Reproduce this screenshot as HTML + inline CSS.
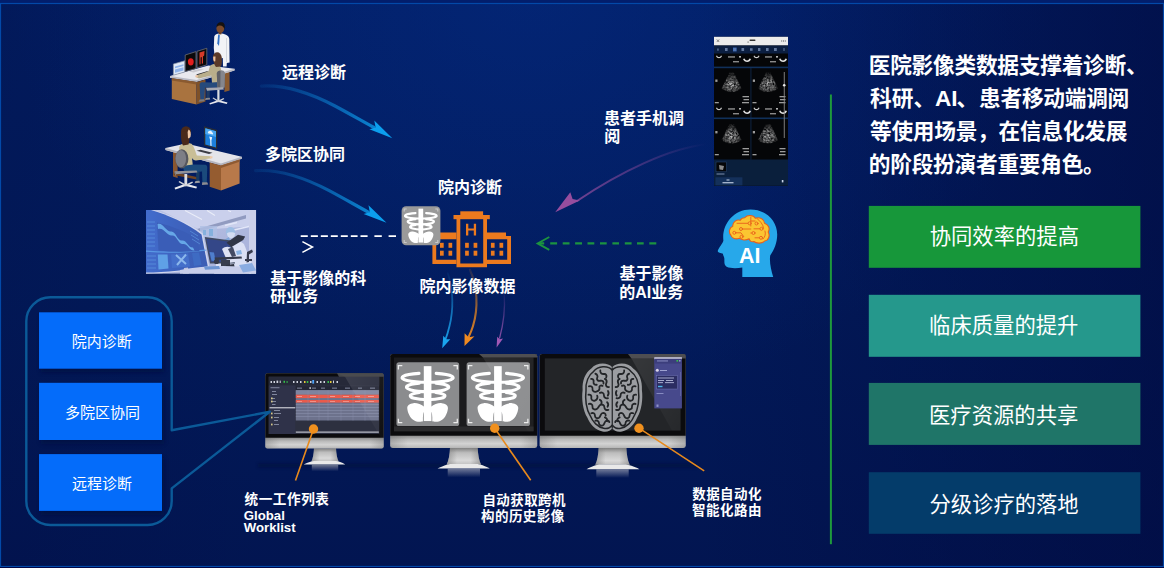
<!DOCTYPE html>
<html lang="zh"><head><meta charset="utf-8"><title>医院影像类数据</title>
<style>
html,body{margin:0;padding:0;background:#021a5e;overflow:hidden}
body{width:1164px;height:568px;font-family:"Liberation Sans","Noto Sans CJK SC",sans-serif}
svg{display:block}
text{font-family:"Liberation Sans","Noto Sans CJK SC",sans-serif}
</style></head><body>
<svg width="1164" height="568" viewBox="0 0 1164 568">
<defs>
<linearGradient id="bgV" x1="0" y1="0" x2="0" y2="1">
  <stop offset="0" stop-color="#021d61"/>
  <stop offset=".55" stop-color="#021a59"/>
  <stop offset="1" stop-color="#021551"/>
</linearGradient>
<radialGradient id="bgG" gradientUnits="userSpaceOnUse" cx="0" cy="0" r="1" gradientTransform="translate(530 -10) scale(520 420)">
  <stop offset="0" stop-color="#0638a4" stop-opacity=".29"/>
  <stop offset=".45" stop-color="#0638a4" stop-opacity=".17"/>
  <stop offset="1" stop-color="#0638a4" stop-opacity="0"/>
</radialGradient>
<linearGradient id="bgR" gradientUnits="userSpaceOnUse" x1="700" y1="0" x2="1164" y2="0">
  <stop offset="0" stop-color="#010a40" stop-opacity="0"/>
  <stop offset="1" stop-color="#010a40" stop-opacity=".6"/>
</linearGradient>
<linearGradient id="bgL" gradientUnits="userSpaceOnUse" x1="0" y1="0" x2="260" y2="0">
  <stop offset="0" stop-color="#010a40" stop-opacity=".18"/>
  <stop offset="1" stop-color="#010a40" stop-opacity="0"/>
</linearGradient>
<linearGradient id="arrB" gradientUnits="userSpaceOnUse" x1="261" y1="86" x2="392" y2="138">
  <stop offset="0" stop-color="#0c86d6" stop-opacity=".12"/>
  <stop offset=".5" stop-color="#0c86d6" stop-opacity=".58"/>
  <stop offset="1" stop-color="#0c9ae8" stop-opacity=".95"/>
</linearGradient>
<linearGradient id="arrP" gradientUnits="userSpaceOnUse" x1="706" y1="144" x2="555" y2="212">
  <stop offset="0" stop-color="#9c4fa2" stop-opacity="0"/>
  <stop offset=".45" stop-color="#9c4fa2" stop-opacity=".42"/>
  <stop offset="1" stop-color="#9c4fa2" stop-opacity=".82"/>
</linearGradient>
<linearGradient id="dnB" gradientUnits="userSpaceOnUse" x1="0" y1="272" x2="0" y2="348">
  <stop offset="0" stop-color="#1aa0ea" stop-opacity=".05"/>
  <stop offset=".6" stop-color="#1aa0ea" stop-opacity=".7"/>
  <stop offset="1" stop-color="#1aa5ee"/>
</linearGradient>
<linearGradient id="dnO" gradientUnits="userSpaceOnUse" x1="0" y1="268" x2="0" y2="346">
  <stop offset="0" stop-color="#e8861e" stop-opacity=".1"/>
  <stop offset=".6" stop-color="#e8861e" stop-opacity=".75"/>
  <stop offset="1" stop-color="#f08a20"/>
</linearGradient>
<linearGradient id="dnP" gradientUnits="userSpaceOnUse" x1="0" y1="292" x2="0" y2="348">
  <stop offset="0" stop-color="#9a55b0" stop-opacity=".05"/>
  <stop offset=".6" stop-color="#9a55b0" stop-opacity=".65"/>
  <stop offset="1" stop-color="#a058b4"/>
</linearGradient>
<linearGradient id="chin" gradientUnits="userSpaceOnUse" x1="0" y1="437.8" x2="0" y2="448.5">
  <stop offset="0" stop-color="#8c8c8c"/>
  <stop offset=".3" stop-color="#b9b9b9"/>
  <stop offset=".65" stop-color="#d3d3d3"/>
  <stop offset="1" stop-color="#b6b6b6"/>
</linearGradient>
<linearGradient id="chinB" gradientUnits="userSpaceOnUse" x1="0" y1="435.7" x2="0" y2="448">
  <stop offset="0" stop-color="#8c8c8c"/>
  <stop offset=".3" stop-color="#b9b9b9"/>
  <stop offset=".65" stop-color="#d3d3d3"/>
  <stop offset="1" stop-color="#b6b6b6"/>
</linearGradient>
<linearGradient id="chinH" x1="0" y1="0" x2="1" y2="0">
  <stop offset="0" stop-color="#6a6a6a" stop-opacity=".35"/>
  <stop offset=".12" stop-color="#6a6a6a" stop-opacity="0"/>
  <stop offset=".88" stop-color="#6a6a6a" stop-opacity="0"/>
  <stop offset="1" stop-color="#6a6a6a" stop-opacity=".35"/>
</linearGradient>
<linearGradient id="neck" x1="0" y1="0" x2="0" y2="1">
  <stop offset="0" stop-color="#7e7e7e"/>
  <stop offset=".3" stop-color="#bdbdbd"/>
  <stop offset=".75" stop-color="#d9d9d9"/>
  <stop offset="1" stop-color="#c2c2c2"/>
</linearGradient>
<linearGradient id="neckH" x1="0" y1="0" x2="1" y2="0">
  <stop offset="0" stop-color="#777" stop-opacity=".55"/>
  <stop offset=".3" stop-color="#777" stop-opacity="0"/>
  <stop offset=".7" stop-color="#777" stop-opacity="0"/>
  <stop offset="1" stop-color="#777" stop-opacity=".55"/>
</linearGradient>
<linearGradient id="refl" x1="0" y1="0" x2="0" y2="1">
  <stop offset="0" stop-color="#c8c8d0" stop-opacity=".55"/>
  <stop offset="1" stop-color="#c8c8d0" stop-opacity="0"/>
</linearGradient>
<linearGradient id="glare" x1="0" y1="0" x2="1" y2="1">
  <stop offset="0" stop-color="#fff" stop-opacity=".22"/>
  <stop offset="1" stop-color="#fff" stop-opacity=".04"/>
</linearGradient>
<filter id="blur2" x="-20%" y="-200%" width="140%" height="500%"><feGaussianBlur stdDeviation="1.6"/></filter>
<filter id="blur1"><feGaussianBlur stdDeviation=".6"/></filter>
<filter id="sh" x="-10%" y="-10%" width="120%" height="130%"><feGaussianBlur stdDeviation="2"/></filter>
<radialGradient id="fanG" cx=".5" cy=".62" r=".6"><stop offset="0" stop-color="#e0e0e0"/><stop offset=".5" stop-color="#8e8e8e"/><stop offset="1" stop-color="#3a3a3a" stop-opacity=".7"/></radialGradient>
<filter id="spk" x="0" y="0" width="100%" height="100%"><feTurbulence type="fractalNoise" baseFrequency=".55" numOctaves="2" seed="3" result="n"/><feColorMatrix in="n" type="matrix" values="0 0 0 0 1  0 0 0 0 1  0 0 0 0 1  1.5 1.1 0 0 -.72" result="m"/><feComposite in="SourceGraphic" in2="m" operator="in"/><feGaussianBlur stdDeviation=".65"/></filter>
</defs>
<!-- bg -->
<rect width="1164" height="568" fill="url(#bgV)"/>
<rect width="1164" height="568" fill="url(#bgG)"/>
<rect width="1164" height="568" fill="url(#bgR)"/>
<rect width="1164" height="568" fill="url(#bgL)"/>
<!-- frame -->
<rect x="0" y="0" width="1164" height="3" fill="#021e6c"/>
<rect x="0" y="567" width="1164" height="1" fill="#00003c"/>
<rect x=".5" y="3.5" width="1163" height="563" fill="none" stroke="#0349a8" stroke-width="1.2"/>

<!-- icons -->
<!-- ===== x-ray tile icon ===== -->
<symbol id="ribs" viewBox="0 0 64 64" preserveAspectRatio="none">
  <rect x="27.8" y="3.9" width="7.8" height="55.6" fill="#fff"/>
  <path d="M22.9 11.28A26.1 4.6 0 1 0 40.5 11.28 M23.1 21.07A21.6 4.5 0 1 0 40.3 21.07 M23.3 30.57A17.7 3.9 0 1 0 40.1 30.57" fill="none" stroke="#fff" stroke-linecap="round"/>
  <path d="M28.6 45.300C25 42.5 20.5 41 17.2 41.4C13.5 41.9 10.7 43.500 10.9 46.5C11.1 49 11.8 51 12.8 53C14 55.5 15.2 56.8 16.5 57.8C18 59 19.8 60 21.7 60.2C23.5 60.4 25.800 60.3 26.900 59.8C26.800 57 26.900 54.5 27.200 52.4C27.400 51.2 27.800 50.4 28.600 49.8Z" fill="#fff"/>
  <path d="M34.800 45.300C38.4 42.5 42.9 41 46.2 41.4C49.9 41.9 52.7 43.5 52.5 46.5C52.3 49 51.6 51 50.6 53C49.4 55.5 48.2 56.8 46.9 57.8C45.4 59 43.6 60 41.7 60.2C39.9 60.4 37.600 60.3 36.500 59.8C36.600 57 36.500 54.5 36.200 52.4C36 51.2 35.600 50.4 34.800 49.800Z" fill="#fff"/>
</symbol>
<!-- ===== hospital ===== -->
<g fill="#ec7a1e">
  <rect x="460.300" y="211.300" width="22.800" height="4.200"/>
  <rect x="453.500" y="215" width="36.300" height="4.200"/>
  <!-- tower -->
  <path d="M456.500 219H487V267.300H456.500ZM460.300 219V263.500H483.200V219Z" fill-rule="evenodd"/>
  <!-- left wing -->
  <path d="M432.400 232.600H456.500V239.300H436.200V259.700H456.500V264.100H432.400Z"/>
  <!-- right wing -->
  <path d="M487 232.400H506V236H511V264.100H487V259.700H507.200V239.300H487Z"/>
  <!-- windows -->
  <g>
    <rect x="440" y="242.800" width="3.700" height="5"/><rect x="448.500" y="242.800" width="3.700" height="5"/>
    <rect x="440" y="250.700" width="3.700" height="5"/><rect x="448.500" y="250.700" width="3.700" height="5"/>
    <rect x="465.100" y="242.800" width="3.700" height="5"/><rect x="473.600" y="242.800" width="3.700" height="5"/>
    <rect x="465.100" y="250.700" width="3.700" height="5"/><rect x="473.600" y="250.700" width="3.700" height="5"/>
    <rect x="490.900" y="242.800" width="3.700" height="5"/><rect x="499.500" y="242.800" width="3.700" height="5"/>
    <rect x="490.900" y="250.700" width="3.700" height="5"/><rect x="499.500" y="250.700" width="3.700" height="5"/>
  </g>
  <!-- H -->
  <path d="M466 223.800H468.300V228.600H473.800V223.800H476.100V235.500H473.800V230.600H468.300V235.500H466Z"/>
</g>
<!-- x-ray tile (on top of hospital) -->
<g>
  <rect x="401.6" y="206.3" width="38.8" height="39" rx="4.5" fill="#9a9a9a"/>
  <g fill="none" stroke="#c9c9c9" stroke-width="1.1">
    <path d="M404.200 211.500V209H406.700M435.300 209H437.800V211.500M437.800 240V242.500H435.300M406.700 242.500H404.200V240"/>
  </g>
  <use href="#ribs" x="401.6" y="206.3" width="38.8" height="39" preserveAspectRatio="none" stroke-width="3.6"/>
</g>
<!-- ===== AI head ===== -->
<g>
  <path d="M750.500 209.400C765.500 209.400 777.200 220.500 777.200 234.500C777.200 243 774.200 249.500 770.200 255.500C769.200 262 771.200 270 773.200 277H742.300V267.600C737 268.400 730.500 268.600 726.600 266.800C723.600 265 724.600 261.200 724.300 258.200C724.100 256.500 722.800 255.300 723 253.700C721 253.200 717.700 252.600 717.700 251C718.600 247.800 722.800 243.500 723.400 240.500C721.500 225 733 209.400 750.500 209.400Z" fill="#27a8ea"/>
  <!-- brain -->
  <path d="M744.500 217.800C747.500 214.600 753.500 214.900 755.300 218.300C759.300 216.600 764.300 219 764.500 223.200C768.500 224.300 770.300 228.800 768.200 232C770.300 235.400 768.600 240.600 764.600 241C762.600 243.600 756.500 243.800 753.800 241.500C751.500 242.300 749.800 241.200 749.200 238.800C746 240.600 741.500 240.300 739.300 238.200C735.800 239.800 731.500 238.300 730.800 235C728.300 232.500 729.300 227.500 732.800 226.300C732.300 222.300 736.500 219 740.300 220.300C741 218.800 742.800 217.800 744.500 217.800Z" fill="#fbc531" stroke="#e8601c" stroke-width="1.100" stroke-linejoin="round"/>
  <g fill="none" stroke="#e8601c" stroke-width=".9" stroke-linecap="round">
    <path d="M750.800 217V226"/>
    <path d="M737 223.300H748"/><circle cx="749.600" cy="223.300" r="1.500" fill="#fbc531"/>
    <path d="M742.500 229H750.800"/><circle cx="741" cy="229" r="1.500" fill="#fbc531"/>
    <path d="M735.700 232.800H741L743.600 236.400"/><circle cx="734.300" cy="232.800" r="1.500" fill="#fbc531"/><circle cx="741.500" cy="236.800" r="1.500" fill="#fbc531"/>
    <path d="M750.800 221H755"/><circle cx="756.500" cy="223.500" r="1.500" fill="#fbc531"/>
    <path d="M754 228.800H760"/><circle cx="761.500" cy="228.800" r="1.500" fill="#fbc531"/>
    <path d="M750.800 233H752"/><circle cx="753.500" cy="233" r="1.500" fill="#fbc531"/>
    <path d="M755 237.800H759.500"/><circle cx="761" cy="237.800" r="1.500" fill="#fbc531"/>
    <path d="M757 218.500C760 221 763 224 763.500 228M765 231C766 234 765 237 763 239"/>
  </g>
</g>
<!-- ===== phone screenshot ===== -->
<g>
  <rect x="714" y="36.800" width="74" height="149" fill="#050608"/>
  <rect x="714" y="36.800" width="74" height="8.700" fill="#ececec"/>
  <path d="M716.800 39.400L719.200 42M719.200 39.400L716.800 42" stroke="#444" stroke-width=".6"/>
  <rect x="749.500" y="39.400" width="6" height="1.500" rx=".7" fill="#333"/>
  <rect x="747.500" y="41.500" width="1.200" height="1.200" fill="#777"/>
  <g fill="#555"><rect x="781.200" y="40.500" width="1" height="1"/><rect x="783" y="40.500" width="1" height="1"/><rect x="784.800" y="40.500" width="1" height="1"/></g>
  <rect x="714" y="45.500" width="74" height="8" fill="#0b1e40"/>
  <g fill="#62789e">
    <rect x="717.300" y="48.500" width="1.300" height="2.200"/><rect x="725" y="48" width="2.600" height="3"/><rect x="733" y="47.600" width="3.600" height="3.800" fill="#3f6fc0"/>
    <rect x="733.800" y="48.400" width="2" height="2.200"/><rect x="741.500" y="48" width="2.600" height="3"/><rect x="750" y="48.200" width="2.600" height="2.600"/>
    <rect x="758" y="48" width="2.400" height="3"/><rect x="766" y="48" width="2.600" height="3"/><rect x="774" y="48" width="2.800" height="3"/><rect x="783.500" y="48" width="1" height="3"/>
  </g>
  <!-- strip 1 -->
  <g filter="url(#blur1)">
    <path d="M716 56.0C717 59.0 721 59.0 722 56.0L721 55.5C720 57.5 718 57.5 717 55.5Z" fill="#cfcfcf"/>
    <rect x="728" y="56.3" width="7" height="1.300" fill="#9a9a9a"/><rect x="739" y="56.0" width="2" height="1.600" fill="#b5b5b5"/>
    <path d="M743 59.0C744.500 63.0 750 63.0 751 59.0L749.500 58.5C748.500 61.0 745.500 61.0 744.500 58.5Z" fill="#e2e2e2"/>
    <rect x="733" y="61.0" width="6" height="1.400" fill="#8a8a8a"/>
    <path d="M753.500 56.0C754.500 59.0 758.500 59.0 759.500 56.0L758.500 55.5C757.500 57.5 755.500 57.5 754.500 55.5Z" fill="#cfcfcf"/>
    <rect x="765" y="56.3" width="7" height="1.300" fill="#9a9a9a"/><rect x="776" y="56.0" width="2" height="1.600" fill="#b5b5b5"/>
    <path d="M779 59.0C780.500 63.0 786 63.0 787 59.0L785.500 58.5C784.500 61.0 781.500 61.0 780.500 58.5Z" fill="#e2e2e2"/>
    <rect x="770" y="61.0" width="6" height="1.400" fill="#8a8a8a"/>
  </g>
  <rect x="714" y="66.600" width="74" height="1.600" fill="#10305a"/>
  <!-- row 1 fans -->
  <g filter="url(#spk)" opacity=".85">
    <path d="M729.5 72.5L734.0 72.5L741.5 88.5C736.5 93.0 726.5 93.0 721.5 88.5Z" fill="url(#fanG)"/>
    <path d="M766 72.5L770.5 72.5L778 88.5C773 93.0 763 93.0 758 88.5Z" fill="url(#fanG)"/>
  </g>
  <g fill="#9c9c9c"><rect x="715.300" y="79.500" width="2.200" height="2.400"/><rect x="752.800" y="79.500" width="2.200" height="2.400"/>
    <rect x="742.500" y="96" width="6.500" height="1.300"/><rect x="743.500" y="99" width="5.500" height="1.300"/><rect x="742" y="102" width="7" height="1.300"/><rect x="714.800" y="102" width="4" height="1.300"/>
    <rect x="779.500" y="96" width="6" height="1.300"/><rect x="780" y="99" width="5.500" height="1.300"/><rect x="779" y="102" width="6.500" height="1.300"/><rect x="752.500" y="102" width="4" height="1.300"/></g>
  <rect x="750.600" y="68" width=".7" height="92" fill="#12305a"/>
  <!-- strip 2 -->
  <g filter="url(#blur1)">
    <path d="M716 108.0C717 111.0 721 111.0 722 108.0L721 107.5C720 109.5 718 109.5 717 107.5Z" fill="#cfcfcf"/>
    <rect x="728" y="108.3" width="7" height="1.300" fill="#9a9a9a"/><rect x="739" y="108.0" width="2" height="1.600" fill="#b5b5b5"/>
    <path d="M743 111.0C744.500 115.0 750 115.0 751 111.0L749.500 110.5C748.500 113.0 745.500 113.0 744.500 110.5Z" fill="#e2e2e2"/>
    <rect x="733" y="113.0" width="6" height="1.400" fill="#8a8a8a"/>
    <path d="M753.500 108.0C754.500 111.0 758.500 111.0 759.500 108.0L758.500 107.5C757.500 109.5 755.500 109.5 754.500 107.5Z" fill="#cfcfcf"/>
    <rect x="765" y="108.3" width="7" height="1.300" fill="#9a9a9a"/><rect x="776" y="108.0" width="2" height="1.600" fill="#b5b5b5"/>
    <path d="M779 111.0C780.500 115.0 786 115.0 787 111.0L785.500 110.5C784.500 113.0 781.500 113.0 780.500 110.5Z" fill="#e2e2e2"/>
    <rect x="770" y="113.0" width="6" height="1.400" fill="#8a8a8a"/>
  </g>
  <rect x="714" y="117.500" width="74" height="1.600" fill="#10305a"/>
  <!-- row 2 fans -->
  <g filter="url(#spk)" opacity=".85">
    <path d="M729.5 124L734.0 124L741.5 140C736.5 144.5 726.5 144.5 721.5 140Z" fill="url(#fanG)"/>
    <path d="M766 124L770.5 124L778 140C773 144.5 763 144.5 758 140Z" fill="url(#fanG)"/>
  </g>
  <g fill="#9c9c9c"><rect x="715.300" y="131" width="2.200" height="2.400"/><rect x="752.800" y="131" width="2.200" height="2.400"/>
    <rect x="742.500" y="148" width="6.500" height="1.300"/><rect x="743.500" y="151" width="5.500" height="1.300"/><rect x="742" y="154" width="7" height="1.300"/><rect x="714.800" y="154" width="4" height="1.300"/>
    <rect x="779.500" y="148" width="6" height="1.300"/><rect x="780" y="151" width="5.500" height="1.300"/><rect x="779" y="154" width="6.500" height="1.300"/><rect x="752.500" y="154" width="4" height="1.300"/></g>
  <!-- scrollbar -->
  <rect x="783.800" y="72" width=".9" height="66" fill="#8a8a8a"/><circle cx="784.200" cy="85.300" r="1.300" fill="#e6e6e6"/>
  <!-- bottom -->
  <rect x="714" y="159.500" width="74" height="26.300" fill="#0a1f3c"/>
  <rect x="716" y="162" width="10.500" height="9.800" fill="#050608" stroke="#2b4a78" stroke-width=".5"/>
  <path d="M719 165L724 166L723 170L719.500 169.500Z" fill="#8a8a8a"/>
  <rect x="716.500" y="173.500" width="8" height="1" fill="#7e90ad"/>
  <rect x="715.400" y="177.300" width="27" height="8" fill="#14305a"/>
  <rect x="726.500" y="179.500" width="3" height="1" fill="#c8d4e8"/><rect x="722.500" y="182.200" width="11" height="1.100" fill="#c8d4e8"/>
  <rect x="781.800" y="180" width="1.600" height="2.400" fill="#c8d4e8"/>
</g>
<!-- ===== doctor scene 1 (standing doctor + seated woman) ===== -->
<g>
  <!-- standing doctor -->
  <path d="M214.200 37.500C214.200 34.800 216.800 33.600 220.200 33.600C224 33.600 228.800 35 229.300 39L229.600 62.500L226.800 63L226.600 66.500H223L222.800 58L215 60L213.800 48Z" fill="#f2f3f6"/>
  <path d="M218.200 34.300L219.800 35.200L219 46L217.300 43.500Z" fill="#2f6fc4"/>
  <path d="M226.500 38V62" stroke="#c9ccd6" stroke-width=".7"/>
  <ellipse cx="220.300" cy="28.600" rx="3.900" ry="4.600" fill="#7b4a2b"/>
  <path d="M216.600 27.200C216.400 23.300 219.500 21.600 222 22.300C224.600 22.700 225.200 25.800 224.600 29.500C224 27.500 222.500 25.500 220 25.500C218.500 25.500 217.300 26 216.600 27.200Z" fill="#16120f"/>
  <rect x="218.800" y="32" width="2.600" height="2.400" fill="#6d4126"/>
  <!-- desk right side panel -->
  <path d="M224.400 72L229.600 70.500V90.500L224.400 92Z" fill="#8a5a30"/>
  <!-- desk top -->
  <path d="M170 76L208.500 65.500L234.500 68.800L234.500 70.600L196.500 81.800L170 77.800Z" fill="#e9e9ee"/>
  <path d="M170 76L196.500 80L234.500 68.800V70.600L196.500 81.800L170 77.800Z" fill="#b9bac4"/>
  <!-- desk left body -->
  <path d="M171.800 78.200L196.500 82V104.600L171.800 99Z" fill="#a9733f"/>
  <path d="M196.500 82L205.500 79.500V101.500L196.500 104.600Z" fill="#7f5128"/>
  <path d="M171.800 78.200L196.500 82V84.500L171.800 80.500Z" fill="#8a5a30"/>
  <!-- laptop / small monitor -->
  <path d="M173.400 64L184.800 60.800V72L173.400 75.200Z" fill="#dfe9f7" stroke="#8d95a5" stroke-width=".7"/>
  <path d="M175 66.500L183.500 64.200V66L175 68.300ZM175 69.500L183.500 67.200V70.500L175 72.800Z" fill="#8fb3ea"/>
  <!-- monitors -->
  <path d="M185.200 55L196 51.600V68.500L185.200 71.500Z" fill="#0a0a0c" stroke="#6e6e74" stroke-width=".8"/>
  <path d="M197 51.300L206.800 48.300V64.800L197 67.800Z" fill="#0a0a0c" stroke="#6e6e74" stroke-width=".8"/>
  <ellipse cx="190.800" cy="61.800" rx="2.900" ry="3.600" fill="#e01e1e"/>
  <path d="M199.500 52.500L204.500 51L204.200 55.500L203 56.500V63.500L201.800 63.800V57L200.600 57.400V64.200L199.500 64.500Z" fill="#d63b2a"/>
  <path d="M189 71.500L199 69L204 69.500L193.500 72.500Z" fill="#c9c9d0"/>
  <!-- keyboard -->
  <path d="M196 74.500L207 71.300L210 72L199 75.500Z" fill="#2a2a30"/>
  <!-- seated woman -->
  <path d="M209.800 66.500C211.500 63.500 217.500 62.800 219.800 65.500C221.800 69 222 78 221.600 82.500L212 83L211.400 75.500L199 78.500L195.800 77L196.600 75.300L208.500 71.200Z" fill="#b9ae8b"/>
  <path d="M195 75.800L197.500 75L198.200 76.800L195.800 77.500Z" fill="#eec3a2"/>
  <path d="M212 82.500L221.600 82C222.500 84.500 221.500 86.800 219.500 87.200L205 87.500L204.200 99.500L200.400 99.800L199.600 84.500C199.800 82.800 201.500 82.200 203 82.300Z" fill="#264a7c"/>
  <path d="M199.800 99.500L204.300 99.300L204.500 101.300L198.500 101.800Z" fill="#7a7a80"/>
  <path d="M206.500 87.500L210 87.400L209.500 98L206.500 98.300Z" fill="#1d3a64"/>
  <path d="M205.800 98L209.800 97.800L210.200 99.600L205 100Z" fill="#8a8a90"/>
  <ellipse cx="217.200" cy="57.200" rx="4.300" ry="5" fill="#5b3a29"/>
  <path d="M213.200 57C213 61 214.500 65.500 216 67L221 66.500C222.300 63 222 58.500 221 55.500Z" fill="#5b3a29"/>
  <path d="M213.300 56.500C213 58.500 213.300 60.500 214 61.500L215.300 61.200L215.500 56.500Z" fill="#eec3a2"/>
  <!-- chair back (in front of torso) -->
  <path d="M216.800 73C218.300 69.600 223.800 69.300 225 72.800L224.700 87.300C223 89.200 218.600 89 217.300 87.200Z" fill="#85868d"/>
  <path d="M216.800 73C217.600 71 219.500 70.300 220.500 71.200L220.300 88.200C219 88.200 217.800 87.900 217.300 87.200Z" fill="#5f6067"/>
  <!-- chair seat / base -->
  <path d="M206 87.800L223 87.200L224 89.500L207 90.800Z" fill="#a7a8b0"/>
  <rect x="217.300" y="89.800" width="2.200" height="10.500" fill="#dadbe0"/>
  <path d="M218.400 100L227.500 102.600L226.800 104L218.400 102L210 104.500L209.300 103.200Z" fill="#e6e7ec"/>
  <path d="M218.400 100.500L223.500 98L224.300 99L218.400 102.300L212.500 98.300L213.300 97.500Z" fill="#cfd0d6"/>
</g>
<!-- ===== doctor scene 2 (woman at desk with monitor) ===== -->
<g>
  <!-- left leg panel -->
  <path d="M173 151.500L177.600 152.500V178L173 176.500Z" fill="#8a5630"/>
  <path d="M173.500 172L199 177.500V180L173.500 175Z" fill="#6e4424"/>
  <!-- monitor -->
  <path d="M204 126.200L217.200 130V149.200L204 145.600Z" fill="#2b2d33"/>
  <path d="M205.300 128.200L216 131.300V147.400L205.300 144.400Z" fill="#1c7fdc"/>
  <path d="M205.300 128.200L216 131.300V137L205.300 134Z" fill="#49a6f0"/>
  <path d="M208.300 131.500C209.500 130 211.800 130.500 212.300 132.500C213 132.800 213.300 133.800 212.800 134.500L208 133.200C207.700 132.500 207.800 132 208.300 131.500ZM209.200 136.500L212.200 137.300L211.400 140.500L211.600 146L210.400 145.700L210.200 140.200Z" fill="#e8f3ff"/>
  <path d="M209.500 148.500L212 149.200V151.500L209.500 150.800Z" fill="#3a3c44"/>
  <!-- desk top -->
  <path d="M165.500 148L186 143.600L241.800 156.800V158.800L221 165.600L165.500 150Z" fill="#e4e4ea"/>
  <path d="M165.500 148L221 163.600L241.800 156.800V158.800L221 165.600L165.500 150Z" fill="#b3b4be"/>
  <!-- keyboard -->
  <path d="M196.500 150.800L209 154L212.500 152.800L200.500 149.800Z" fill="#3b3c44"/>
  <!-- desk right pedestal -->
  <path d="M209.700 162.500L221 165.600V190.600L209.700 186.800Z" fill="#955c30"/>
  <path d="M221 165.600L239.600 159.600V183.400L221 190.600Z" fill="#b8794a"/>
  <path d="M221 165.600L239.600 159.600V161.800L221 168Z" fill="#8f5a32"/>
  <!-- woman -->
  <path d="M179.200 147C180.500 143.200 187.500 141.800 191.500 143.800C194 146 196 153 196.800 155.500L210.500 156.200L211.300 158.200L196 160.500C194 160.500 192.800 159.500 192 158L192.800 165L183 166.500C181 160 179 152 179.200 147Z" fill="#c9be96"/>
  <path d="M209.800 156L212.600 156.500L212.300 158.300L210 158.400Z" fill="#f0c9a8"/>
  <path d="M183 166L193 164.400L205.500 164.800C207 165.200 207.500 167 207.200 169L206.800 182.500H202.400L202 171.500L188 173C185 173 183 170 183 166Z" fill="#1b4a7c"/>
  <path d="M196 172.200L199.600 171.800L199.300 181L196.300 181.300Z" fill="#163a62"/>
  <path d="M202.200 182.300L207.200 182.200L208.200 184.600L202 185Z" fill="#8c8c92"/>
  <path d="M195.500 181L199.500 180.800L200 182.800L194.500 183.200Z" fill="#9a9aa0"/>
  <ellipse cx="186" cy="131.800" rx="5" ry="5.600" fill="#4a2a1b"/>
  <path d="M181.200 131.500C180.500 137 181.500 143 183 145.500L188.500 144.500C189.800 141 189.600 135 188.600 131Z" fill="#4a2a1b"/>
  <path d="M188.600 129.500C190.500 130.500 191.200 133.500 190.600 136.500C190 138 188.800 138.500 188 138.200L187.600 132Z" fill="#f0c9a8"/>
  <!-- chair back (in front of torso) -->
  <ellipse cx="181.800" cy="158.800" rx="6.600" ry="9.600" fill="#56575e"/>
  <ellipse cx="180.800" cy="158.600" rx="5.300" ry="8.700" fill="#7d7e86"/>
  <!-- chair seat + base -->
  <path d="M174.500 171.200L196.500 170.500L197.500 172.500L176 174.300Z" fill="#8f9098"/>
  <path d="M174.500 171.200L176 174.300L176 176.200L174.500 173Z" fill="#8a8b92"/>
  <rect x="184.400" y="174" width="2.800" height="10.500" fill="#dcdde2"/>
  <path d="M185.800 183.500L197 186.800L196.300 188.500L185.800 186L175.300 189.500L174.500 187.800Z" fill="#e8e9ee"/>
  <path d="M185.800 184.500L192.300 181.500L193 182.800L185.800 186.500L178.500 182L179.500 181Z" fill="#cfd0d6"/>
</g>
<!-- ===== lab photo ===== -->
<g>
  <clipPath id="labClip"><rect x="146" y="210" width="110.200" height="63.800"/></clipPath>
  <linearGradient id="labBg" x1="0" y1="0" x2="1" y2="1"><stop offset="0" stop-color="#c3cbe8"/><stop offset="1" stop-color="#a9b1d6"/></linearGradient>
  <linearGradient id="labMon" x1="0" y1="0" x2="1" y2="0"><stop offset="0" stop-color="#2a5cc8"/><stop offset=".5" stop-color="#2450b6"/><stop offset="1" stop-color="#2148a8"/></linearGradient>
  <g clip-path="url(#labClip)">
    <rect x="146" y="210" width="110.200" height="63.800" fill="url(#labBg)"/>
    <!-- ceiling -->
    <path d="M160 210H256V226L200 230Z" fill="#d8dcf0"/>
    <path d="M197 229L246 215V218.500L199 231.500Z" fill="#8f98b8"/>
    <path d="M185 210.500L202 219.500M207 210.500L215 215.500M228 210.500L231 211.800" stroke="#fff" stroke-width="1.100"/>
    <path d="M225 225.500L237 222.500M234 230L251 226" stroke="#f6f8ff" stroke-width="1.500"/>
    <rect x="249" y="210" width="7.200" height="63.800" fill="#d9dcee"/>
    <!-- glass bottles bg -->
    <rect x="200" y="226" width="17" height="14" fill="#b5c7e6" opacity=".8"/>
    <path d="M203 230h3v5h-3zM209 229h4v7h-4z" fill="#7fb4dd"/>
    <!-- person -->
    <path d="M222 246C226 240 238 238 244 244L251 262V273.800H214L218 256Z" fill="#eef0fa"/>
    <ellipse cx="230.500" cy="232" rx="4.600" ry="5" fill="#9fc4e6"/>
    <path d="M227 233.500C227 231.800 235 231.800 235 233.500C235 236.500 233 238.300 231 238.300C229 238.300 227 236.500 227 233.500Z" fill="#e4ebf8"/>
    <path d="M224 240L229 237L231 244L225 246Z" fill="#7aa6d8"/>
    <path d="M236 251L241 250L242 254L237 255Z" fill="#86b7e6"/>
    <!-- second monitor -->
    <path d="M204.800 237L231 240.500L235 263.500L210 263.500Z" fill="#27303f"/>
    <path d="M206.200 238.800L229.500 241.800L233 262L211 262Z" fill="#182c70"/>
    <path d="M209.500 252L214 252.500L215.500 261L211.500 260.800Z" fill="#3a72c8"/>
    <!-- big curved monitor -->
    <path d="M146 210H152.500C170 214.500 188 222 202.800 233.500L209.500 267.500C190 271 165 273.500 146 273.800Z" fill="#e0e3f2"/>
    <path d="M146 210H151C168 215 186.500 223 201.500 234.500L207.800 266.500C189 269.800 165 272.300 146 272.600Z" fill="url(#labMon)"/>
    <!-- panels on big monitor -->
    <path d="M146 250.500C166 252.500 186 251.500 206 249.500L206.300 250.700C186 252.700 166 253.700 146 251.700Z" fill="#4fa3ee" opacity=".8"/>
    <path d="M157 222.500C172 226 187 232 196 238.500L199.500 251C186 252 171 252 158.500 250.500Z" fill="#1f48ac"/>
    <path d="M157.500 224C163 222 166 232 171 231.500C176 231 177 241 182 240.500C187 240 188 248 193 247.500L194.500 250.500C189 251 188 243.500 183 244C178 244.500 177 235 172 235.500C167 236 164 227 158 229Z" fill="#63b8f4" opacity=".85"/>
    <path d="M157.800 254.500L167.500 254.500L168.500 268.500L158.500 269.500Z" fill="#4f9fe8"/>
    <path d="M171 254.500L188 253.500L190 266.500L172 268Z" fill="#2c5fc4"/>
    <path d="M176 255L186 264M186 254.500L177 265" stroke="#9fd4fb" stroke-width="2" opacity=".8"/>
    <path d="M192 253L199 252.500L201.500 265L194 266Z" fill="#245abc"/>
    <g stroke="#5aa8ee" stroke-width=".7" opacity=".75">
      <path d="M147 222H155M147 226H155M147 230H155M147 234H155M147 238H155M147 242H155M147 246H155"/>
      <path d="M147 256H156M147 260H156M147 264H156M147 268H156"/>
      <path d="M190 231L198 236M191 235L199 240M192 239L200 244"/>
    </g>
    <!-- monitor stand -->
    <path d="M184 268L188 267.500L189 273.800H183Z" fill="#c9cde0"/>
    <!-- microscope -->
    <path d="M226.500 242.800L238 234.800L245.200 236.600L243.200 240L231.500 247Z" fill="#14161c"/>
    <path d="M222 249C225 246 230 246 232 249L236 262L228 263Z" fill="#f1f3fb"/>
    <path d="M214.500 257.500L241.500 256.500L242 258.500L215 260Z" fill="#1a1c22"/>
    <path d="M221 260H230V268.500H221Z" fill="#1d1f26"/>
    <path d="M226 265L234 264L235 269L227 270Z" fill="#101216"/>
    <circle cx="216.500" cy="261.500" r="2.600" fill="#1a1c22"/>
    <path d="M228 249L233 247L236 256L232 257Z" fill="#2b3040"/>
    <!-- second microscope right -->
    <path d="M247 252L252 249.500L253 252L249 254.500V262L246.500 262.500Z" fill="#1b1d24"/>
    <rect x="245" y="259" width="7" height="2" fill="#1b1d24"/>
    <!-- table -->
    <path d="M180 270C205 265 235 265 256.200 268.500V273.800H180Z" fill="#d5d9ee"/>
    <path d="M204 266.500L219 266L220 269L205 269.800Z" fill="#5f8fd0"/>
    <path d="M239 265L252 263L256.200 270.500L243 272.500Z" fill="#86aee2"/>
    <rect x="146" y="210" width="110.200" height="63.800" fill="#9aa8e0" opacity=".22"/>
  </g>
</g>

<!-- arrows -->
<!-- blue curved arrows (scene -> hospital) -->
<g id="barrow">
  <path d="M261.400 86.100C285 84.500 312 94 335 106C350 114 362 121 374 127.500" fill="none" stroke="url(#arrB)" stroke-width="3.200" stroke-linecap="round"/>
  <path d="M392.300 138.200L374.300 120.600L375.600 127.600L369.400 129.300Z" fill="#0c9fee"/>
</g>
<use href="#barrow" x="-5.800" y="84.600"/>
<!-- white dashed line + '>' -->
<path d="M300.7 236.1H307.8M310.8 236.1H317.9M320.8 236.1H327.9M330.8 236.1H337.8M340.8 236.1H347.8M350.8 236.1H357.6M360.5 236.1H367.6M374.4 236.1H381.8M388.6 236.1H396" stroke="#fff" stroke-width="1.700" fill="none"/>
<path d="M302.400 241.700L312.500 247L302.400 252.300" fill="none" stroke="#fff" stroke-width="1.500"/>
<!-- purple curved arrow (phone -> hospital) -->
<path d="M706.400 144.300C670 148 620 172 577 201" fill="none" stroke="url(#arrP)" stroke-width="2.100" stroke-linecap="round"/>
<path d="M555.200 212.200L570.300 192.200L572.600 199L579.800 200.600Z" fill="#964d9e"/>
<!-- green dashed arrow (AI -> hospital) -->
<path d="M538 243.400H544.200M550.200 243.400H557.100M562.700 243.400H569.500M575.100 243.400H582M587.500 243.400H594.300M600 243.400H606.700M612.400 243.400H619M624.800 243.400H631.600M637 243.400H643.700M649.300 243.400H656.300" stroke="#1c9340" stroke-width="2.200" fill="none"/>
<path d="M549.300 237L537.600 243.400L549.300 249.900" fill="none" stroke="#1c9340" stroke-width="1.900"/>
<!-- downward arrows (hospital -> monitors) -->
<path d="M447.900 273.200C453.500 290 453.500 310 449.500 326C448.300 331 446.800 336 445.600 339" fill="none" stroke="url(#dnB)" stroke-width="1.800" stroke-linecap="round"/>
<path d="M442.200 348.200L443.300 335.800L446.300 339.300L450.300 339.300Z" fill="#1aa5ee"/>
<path d="M469.900 269.700C477.500 286 478.500 308 473 326C471.700 330.500 469.800 334.500 468.600 337" fill="none" stroke="url(#dnO)" stroke-width="2.100" stroke-linecap="round"/>
<path d="M464.500 346L464.600 333.300L468.700 337.200L474.500 336.300Z" fill="#f08a20"/>
<path d="M504.200 293.500C505.200 308 503.200 325 499.600 338" fill="none" stroke="url(#dnP)" stroke-width="1.300" stroke-linecap="round"/>
<path d="M496.600 347.600L497.200 336.800L499.800 339.300L503 338.600Z" fill="#a058b4"/>

<!-- monitors -->
<!-- floor shadow -->
<rect x="258" y="463.800" width="440" height="3.400" fill="#010830" opacity=".5" filter="url(#blur2)"/>
<!-- ========== monitor 1 (worklist) ========== -->
<g>
  <!-- stand -->
  <path d="M314 448.300H336C336.300 454 337 458.500 338.600 461.500H311.400C313 458.500 313.700 454 314 448.300Z" fill="url(#neck)"/>
  <path d="M314 448.300H336C336.300 454 337 458.500 338.600 461.500H311.400C313 458.500 313.700 454 314 448.300Z" fill="url(#neckH)"/>
  <path d="M303.600 464.600C308 462.300 312 461.200 314 461H336C338 461.200 342 462.300 345.300 464.600Z" fill="#e9e9e9"/>
  <rect x="311.800" y="464.800" width="26.400" height="6.500" fill="url(#refl)"/>
  <!-- body -->
  <rect x="265.300" y="373.300" width="118.400" height="75.200" rx="2.200" fill="url(#chin)"/>
  <rect x="265.300" y="437.800" width="118.400" height="10.700" rx="2" fill="url(#chinH)"/>
  <path d="M267.500 373.300H381.500A2.200 2.200 0 0 1 383.700 375.500V437.800H265.300V375.500A2.200 2.200 0 0 1 267.500 373.300Z" fill="#0b0b0d"/>
  <!-- screen -->
  <rect x="268.700" y="376.700" width="110.500" height="57.300" fill="#2d3040"/>
  <rect x="268.700" y="376.700" width="110.500" height="8.800" fill="#262939"/>
  <g fill="#cfd3de">
    <rect x="270.500" y="381" width="1.500" height="2"/><rect x="273.500" y="381" width="1.500" height="2"/><rect x="276.500" y="380.600" width="1.700" height="2.400"/><rect x="279.700" y="380.600" width="1" height="2.400"/>
    <rect x="293" y="381" width="1.500" height="2"/><rect x="296.500" y="381" width="1.500" height="2"/><rect x="300" y="381" width="1.500" height="2"/>
    <rect x="310" y="381" width="1.500" height="2"/><rect x="316.500" y="381" width="1.500" height="2"/><rect x="320" y="381" width="1.500" height="2"/><rect x="323.500" y="381" width="1.500" height="2"/>
    <rect x="333" y="380.600" width="1" height="2.600"/><rect x="336.500" y="381" width="1.500" height="2"/>
  </g>
  <rect x="283.500" y="380.800" width="1.500" height="2" fill="#35c04a"/><rect x="286.500" y="381.200" width="1.200" height="1.600" fill="#35c04a"/>
  <rect x="304" y="381" width="1.500" height="2" fill="#e6c93a"/><rect x="306.800" y="381" width="1.500" height="2" fill="#35c04a"/>
  <rect x="312.300" y="380" width="1.800" height="3.600" fill="#4da6ff"/><rect x="327.500" y="381" width="1.500" height="2" fill="#35c04a"/><rect x="330" y="381" width="1.500" height="2" fill="#e6c93a"/>
  <!-- sidebar -->
  <rect x="268.700" y="385.500" width="26.600" height="48.500" fill="#30334a" opacity=".9"/>
  <g fill="#8b90a8">
    <rect x="270.500" y="387.300" width="9" height=".9"/><rect x="272" y="391" width="4" height=".9"/><rect x="272" y="394" width="5" height=".9"/>
    <rect x="272" y="398" width="3" height=".9"/><rect x="272" y="401" width="4" height=".9"/><rect x="272" y="404" width="3.500" height=".9"/>
    <rect x="274" y="410" width="6" height=".9"/><rect x="274" y="413" width="7" height=".9"/><rect x="274" y="417" width="5" height=".9"/><rect x="274" y="420" width="4" height=".9"/><rect x="274" y="424" width="5" height=".9"/>
  </g>
  <g fill="#d5c78a"><rect x="271" y="397.500" width="1.600" height="1.800"/><rect x="271" y="400.600" width="1.600" height="1.800"/><rect x="271" y="412.600" width="1.600" height="1.800"/><rect x="271" y="416.600" width="1.600" height="1.800"/><rect x="271" y="423.600" width="1.600" height="1.800"/></g>
  <rect x="269.500" y="407.300" width="25.800" height="1" fill="#e8e8ee"/>
  <!-- table -->
  <rect x="295.800" y="386.300" width="83" height="3.600" fill="#232636"/>
  <g fill="#9aa0b8"><rect x="297" y="387.700" width="5" height=".8"/><rect x="309.500" y="387.300" width="1.300" height="1.500" fill="#fff"/><rect x="312" y="387.700" width="4" height=".8"/><rect x="321" y="387.700" width="4" height=".8"/><rect x="332" y="387.700" width="5" height=".8"/><rect x="345" y="387.700" width="5" height=".8"/><rect x="358" y="387.700" width="4" height=".8"/><rect x="370" y="387.700" width="5" height=".8"/></g>
  <rect x="295.800" y="390.200" width="83" height="30.300" fill="#6d728c"/>
  <rect x="295.800" y="390.200" width="83" height="4.300" fill="#7e84a0"/>
  <rect x="295.800" y="394.700" width="83" height="3.400" fill="#ea5a4b"/>
  <rect x="295.800" y="400" width="83" height="2.600" fill="#ea5a4b"/>
  <g stroke="#8f95b0" stroke-width=".5">
    <path d="M295.800 404.500H378.800M295.800 407.500H378.800M295.800 410.500H378.800M295.800 413.500H378.800M295.800 416.500H378.800"/>
  </g>
  <g stroke="#8a8fa8" stroke-width=".5" opacity=".8">
    <path d="M308 390.200V420.500M319 390.200V420.500M328 390.200V420.500M341 390.200V420.500M353 390.200V420.500M365 390.200V420.500"/>
  </g>
  <g fill="#f6b0a8" opacity=".9"><rect x="297" y="396" width="5" height=".8"/><rect x="310" y="396" width="6" height=".8"/><rect x="330" y="396" width="5" height=".8"/><rect x="343" y="396" width="6" height=".8"/><rect x="355" y="396" width="5" height=".8"/><rect x="368" y="396" width="6" height=".8"/>
    <rect x="297" y="401" width="5" height=".7"/><rect x="310" y="401" width="6" height=".7"/><rect x="330" y="401" width="5" height=".7"/><rect x="343" y="401" width="6" height=".7"/><rect x="355" y="401" width="5" height=".7"/><rect x="368" y="401" width="6" height=".7"/></g>
  <rect x="295.800" y="431.600" width="83" height="1" fill="#d9dbe4"/>
  <!-- glare -->
  <path d="M337 373.300H381.500A2.200 2.200 0 0 1 383.700 375.500V437.800H381L345 376.700Z" fill="url(#glare)" opacity=".5"/>
  <path d="M337 373.300H381.500A2.200 2.200 0 0 1 383.700 375.500V376.700H339Z" fill="#55565a" opacity=".8"/>
</g>
<!-- ========== monitor 2 (dual x-ray) ========== -->
<g>
  <path d="M450 447.800H477.700C478 455 479 460.500 481 464.500H446.700C448.700 460.500 449.700 455 450 447.800Z" fill="url(#neck)"/>
  <path d="M450 447.800H477.700C478 455 479 460.500 481 464.500H446.700C448.700 460.500 449.700 455 450 447.800Z" fill="url(#neckH)"/>
  <path d="M437.600 468.600C443 465.800 448 464.300 450 464H477.500C479.500 464.300 485 465.800 489.800 468.600Z" fill="#e9e9e9"/>
  <rect x="447.700" y="468.800" width="32.300" height="8.500" fill="url(#refl)"/>
  <rect x="390.200" y="353.900" width="147" height="94.100" rx="2.400" fill="url(#chinB)"/>
  <rect x="390.200" y="435.700" width="147" height="12.300" rx="2" fill="url(#chinH)"/>
  <path d="M392.600 353.900H534.800A2.400 2.400 0 0 1 537.200 356.300V435.700H390.200V356.300A2.400 2.400 0 0 1 392.600 353.900Z" fill="#0b0b0d"/>
  <rect x="394" y="357.500" width="139.600" height="73.800" fill="#1b1b1d"/>
  <rect x="394" y="426.500" width="139.600" height="4.800" fill="#2a2a2c"/>
  <!-- panels -->
  <rect x="396.400" y="362.300" width="62.800" height="63.700" rx="2.600" fill="#8b8c8e"/>
  <rect x="466.600" y="362.300" width="63.400" height="63.700" rx="2.600" fill="#8b8c8e"/>
  <g fill="none" stroke="#ececec" stroke-width="1.300">
    <path d="M398.4 369.5V365.6H402.29999999999995M453.40000000000003 365.6H457.3V369.5M457.3 418.8V422.7H453.40000000000003M402.29999999999995 422.7H398.4V418.8"/>
    <path d="M468.5 369.5V365.6H472.4M524.0 365.6H527.9V369.5M527.9 418.8V422.7H524.0M472.4 422.7H468.5V418.8"/>
  </g>
  <use href="#ribs" x="396.600" y="362.300" width="62.600" height="63.200" stroke-width="3.200"/>
  <use href="#ribs" x="466.900" y="362.300" width="62.600" height="63.200" stroke-width="3.200"/>
  <!-- glare -->
  <path d="M479 353.900H534.800A2.400 2.400 0 0 1 537.200 356.300V357.500H483Z" fill="#5a5b5e" opacity=".85"/>
  <path d="M483 357.500H533.600V431.300H528Z" fill="url(#glare)" opacity=".35"/>
</g>
<!-- ========== monitor 3 (brain) ========== -->
<g>
  <path d="M598.600 447.800H626.400C626.700 455 627.700 460.800 629.700 464.800H595.300C597.300 460.800 598.300 455 598.600 447.800Z" fill="url(#neck)"/>
  <path d="M598.600 447.800H626.400C626.700 455 627.700 460.800 629.700 464.800H595.300C597.300 460.800 598.300 455 598.600 447.800Z" fill="url(#neckH)"/>
  <path d="M586.600 469.200C592 466.400 597 464.900 599 464.600H626C628 464.900 634 466.400 639.400 469.200Z" fill="#e9e9e9"/>
  <rect x="596.300" y="469.400" width="32.400" height="8.500" fill="url(#refl)"/>
  <rect x="539.700" y="353.900" width="146" height="94.100" rx="2.400" fill="url(#chinB)"/>
  <rect x="539.700" y="435.700" width="146" height="12.300" rx="2" fill="url(#chinH)"/>
  <path d="M542.100 353.900H683.300A2.400 2.400 0 0 1 685.700 356.300V435.700H539.700V356.300A2.400 2.400 0 0 1 542.100 353.900Z" fill="#0b0b0d"/>
  <rect x="544.800" y="358.400" width="135.800" height="72.200" fill="#232528"/>
  <!-- glare -->
  <path d="M628 353.900H683.300A2.400 2.400 0 0 1 685.700 356.300V358.400H631.500Z" fill="#5a5b5e" opacity=".85"/>
  <path d="M631.500 358.400H680.600V430.600H672Z" fill="url(#glare)" opacity=".4"/>
  <!-- brain -->
  <g id="brain">
    <path d="M612.250 367.300C607.500 361.800 596 362.400 591.300 368.600C585.300 372.600 582 381 582.600 390C581.400 399 582.800 410.500 587.300 417.500C590 424.500 596 430.500 602.500 431.400C606.500 432.400 610.800 431 612.250 427.800Z" fill="#9b9da1"/>
    <path d="M612.2 367.3C617.0 361.8 628.5 362.4 633.2 368.6C639.2 372.6 642.5 381 641.9 390C643.1 399 641.7 410.5 637.2 417.5C634.5 424.5 628.5 430.5 622.0 431.4C618.0 432.4 613.7 431 612.2 427.8Z" fill="#9b9da1"/>
    <g transform="translate(612.25 397.1) scale(.885 .905) translate(-612.25 -397.1)" fill="none" stroke="#232528" stroke-width="1.700" stroke-linejoin="round">
      <path d="M612.250 367.300C607.500 361.800 596 362.400 591.300 368.600C585.300 372.600 582 381 582.600 390C581.400 399 582.800 410.500 587.300 417.500C590 424.500 596 430.500 602.500 431.400C606.500 432.400 610.800 431 612.250 427.800"/>
      <path d="M612.2 367.3C617.0 361.8 628.5 362.4 633.2 368.6C639.2 372.6 642.5 381 641.9 390C643.1 399 641.7 410.5 637.2 417.5C634.5 424.5 628.5 430.5 622.0 431.4C618.0 432.4 613.7 431 612.2 427.8"/>
    </g>
    <path d="M612.25 367.500V428" stroke="#232528" stroke-width="1.200"/>
    <g transform="translate(612.25 397.1) scale(.9 .93) translate(-612.25 -397.1)" fill="none" stroke="#232528" stroke-width="2" stroke-linecap="round" stroke-linejoin="round">
      <path d="M599 368.500C598.500 371 600.500 372.500 603 372.300C605.500 372 606.500 374 605.500 376 M593.500 372C595.500 372.500 596.500 374.500 595.500 376.500C594.500 378.500 596.500 380 599 379.500C601.500 379 603 380.500 602.500 382.500 M588.800 377.500C590.800 377.300 592 378.800 591.500 380.800C591 383 593 384.300 595 383.800 M586.300 385.500C588.500 384.800 590.500 386 590.300 388.300C590 390.500 592 392 594.500 391.300C597 390.600 598.500 388.800 598 386.800C597.500 385 599.500 384 601.500 385 M604 377.500C606 378.500 606.500 380.500 605.500 382.500C604.500 384.500 606 386.500 608.500 386.300 M585.800 394.500C588 394 589.500 395.500 589 397.500C588.500 400 590.500 401.500 593 400.800C595.500 400 596.500 397.500 595.500 395.500 M598.500 392.500C600.500 391.500 603 392.500 603 395C603 397.500 605 399 607.500 398.300 M586.300 404.500C588.500 403.800 590.500 405 590.300 407.300C590 409.800 592.500 411 594.800 410C597 409 597 406.500 599 405.500C601 404.500 603.500 405.500 603.500 408C603.500 410.300 605.500 411.500 608 410.800 M598.500 400C600.500 401 600.800 403 599.800 405 M589 414.500C591 413.500 593 414.800 593 417C593 419.500 595.500 420.500 597.500 419.300C599.500 418 599 415.500 601 414.500C603 413.500 605 414.800 605 417 M593.500 422.500C595.500 421.800 597.500 423 597.500 425.300C597.500 427.500 600 428.500 602 427.300C604 426 603.500 423.500 605.500 422.500C607 421.800 608.500 422.500 609 424 M604 419C606 419.500 607 421 606.500 423 M607.500 390.500C608.500 392 608.300 394 607.300 395.500 M606.500 402.500C607.800 403.800 608 406 607 407.500"/>
      <path d="M625.5 368.5C626.0 371 624.0 372.500 621.5 372.3C619.0 372 618.0 374 619.0 376 M631.0 372C629.0 372.5 628.0 374.5 629.0 376.5C630.0 378.500 628.0 380 625.5 379.5C623.0 379 621.5 380.5 622.0 382.5 M635.7 377.5C633.7 377.3 632.5 378.800 633.0 380.800C633.5 383 631.5 384.3 629.5 383.800 M638.2 385.5C636.0 384.8 634.0 386 634.2 388.3C634.5 390.5 632.5 392 630.0 391.3C627.5 390.6 626.0 388.8 626.5 386.8C627.0 385 625.0 384 623.0 385 M620.5 377.5C618.5 378.5 618.0 380.5 619.0 382.5C620.0 384.500 618.5 386.5 616.0 386.3 M638.7 394.5C636.5 394 635.0 395.5 635.5 397.5C636.0 400 634.0 401.5 631.5 400.800C629.0 400 628.0 397.5 629.0 395.5 M626.0 392.5C624.0 391.5 621.5 392.5 621.5 395C621.5 397.5 619.5 399 617.0 398.3 M638.2 404.5C636.0 403.8 634.0 405 634.2 407.3C634.5 409.8 632.0 411 629.7 410C627.5 409 627.5 406.5 625.5 405.5C623.5 404.5 621.0 405.5 621.0 408C621.0 410.3 619.0 411.5 616.5 410.800 M626.0 400C624.0 401 623.7 403 624.7 405 M635.5 414.5C633.5 413.5 631.5 414.800 631.5 417C631.5 419.5 629.0 420.5 627.0 419.3C625.0 418 625.5 415.5 623.5 414.5C621.5 413.5 619.5 414.8 619.5 417 M631.0 422.5C629.0 421.8 627.0 423 627.0 425.3C627.0 427.5 624.5 428.5 622.5 427.3C620.5 426 621.0 423.5 619.0 422.5C617.5 421.8 616.0 422.5 615.5 424 M620.5 419C618.5 419.5 617.5 421 618.0 423 M617.0 390.5C616.0 392 616.2 394 617.2 395.5 M618.0 402.500C616.7 403.8 616.5 406 617.5 407.5"/>
    </g>
  </g>
  <!-- side panel -->
  <rect x="654.300" y="357.400" width="27.600" height="51" fill="#47498c"/>
  <rect x="654.300" y="357.400" width="27.600" height="2" fill="#eeeef4"/>
  <rect x="654.300" y="358.600" width="27.600" height="5" fill="#3c3e7c"/>
  <g fill="#8f93c8"><rect x="657" y="360.500" width="11" height=".9"/><rect x="676.500" y="360" width="1.600" height="1.600" fill="#35c04a"/><rect x="679" y="360" width="1.600" height="1.600"/></g>
  <circle cx="657.300" cy="370.300" r="1.500" fill="#d9d3e8"/>
  <rect x="660" y="370" width="7" height=".9" fill="#a8acd8"/>
  <rect x="656.500" y="375.500" width="21" height="13.500" fill="#2b2d62" stroke="#7f83c0" stroke-width=".4"/>
  <g fill="#c5c8e8"><rect x="658" y="377.600" width="16" height=".8"/><rect x="658" y="380" width="6" height=".8"/><rect x="666" y="380" width="7" height=".8"/><rect x="658" y="382.300" width="5" height=".8"/><rect x="665" y="382.300" width="9" height=".8"/></g>
  <rect x="658" y="385.800" width="4.500" height="1.400" fill="#4db6e8"/>
  <rect x="656.500" y="393" width="7" height=".9" fill="#8f93c8"/>
  <rect x="656.500" y="404.500" width="2" height="2.400" fill="#8f93c8"/>
  <rect x="680" y="372" width=".7" height="24" fill="#6a6ea8"/>
</g>
<!-- callout orange lines + dots -->
<g stroke="#e8891c" stroke-width="1.600" fill="none">
  <path d="M313.500 429L295.500 480.500"/>
  <path d="M494.700 428.300L530.700 480.300"/>
  <path d="M639 428.200L704.200 470.800"/>
</g>
<g fill="#f0901e">
  <circle cx="313.500" cy="429" r="4.700"/><circle cx="494.700" cy="428.300" r="4.700"/><circle cx="639" cy="428.200" r="4.700"/>
</g>

<!-- left -->
<path d="M50.3 297.300H147.700A24 24 0 0 1 171.700 321.300V430.300L269.800 411.800L171.700 488.400V501A24 24 0 0 1 147.700 525H50.300A24 24 0 0 1 26.300 501V321.300A24 24 0 0 1 50.300 297.300Z" fill="none" stroke="#0b5a98" stroke-width="2.400" stroke-linejoin="round"/>
<g fill="#010a3a" opacity=".55" filter="url(#sh)">
  <rect x="41" y="316" width="123" height="56.400"/>
  <rect x="41" y="386.500" width="123" height="57.200"/>
  <rect x="41" y="458" width="123" height="56.800"/>
</g>
<g fill="#046cfa">
  <rect x="39" y="312.300" width="123" height="56.400"/>
  <rect x="39" y="382.800" width="123" height="57.200"/>
  <rect x="39" y="454.100" width="123" height="56.800"/>
</g>

<!-- right -->
<rect x="829.9" y="94.500" width="2" height="449.700" fill="#1f9a3c"/>
<rect x="868.8" y="205.900" width="271.600" height="61.900" fill="#17973a"/>
<rect x="868.8" y="294.800" width="271.600" height="62" fill="#25988c"/>
<rect x="868.8" y="382.900" width="271.600" height="62" fill="#1f7568"/>
<rect x="868.8" y="472.200" width="271.600" height="61.600" fill="#043c6a"/>

<!-- text -->
<g id="labels" fill="#fff" font-family="&quot;Liberation Sans&quot;, &quot;Noto Sans CJK SC&quot;, sans-serif">
<text x="282.100" y="78.100" font-size="16" font-weight="bold">远程诊断</text>
<text x="264.900" y="159.600" font-size="16" font-weight="bold">多院区协同</text>
<text x="438.0" y="192.600" font-size="16" font-weight="bold">院内诊断</text>
<text x="419.400" y="291.900" font-size="16" font-weight="bold">院内影像数据</text>
<text x="270.300" y="283.500" font-size="16" font-weight="bold">基于影像的科</text>
<text x="270.300" y="302.300" font-size="16" font-weight="bold">研业务</text>
<text x="604.0" y="124.200" font-size="16" font-weight="bold">患者手机调</text>
<text x="604.200" y="142.400" font-size="16" font-weight="bold">阅</text>
<text x="619.600" y="278.600" font-size="16" font-weight="bold">基于影像</text>
<text x="619.200" y="297.500" font-size="16" font-weight="bold">的AI业务</text>
<text x="868.700" y="72.800" font-size="21.700" font-weight="bold" textLength="279" lengthAdjust="spacing">医院影像类数据支撑着诊断、</text>
<text x="870.0" y="105.700" font-size="21.700" font-weight="bold">科研、</text>
<text x="935.0" y="106.100" font-size="22.600" font-weight="bold">AI</text>
<text x="956.500" y="105.700" font-size="21.700" font-weight="bold">、</text>
<text x="979.100" y="105.700" font-size="21.700" font-weight="bold" textLength="150.200" lengthAdjust="spacing">患者移动端调阅</text>
<text x="870.0" y="138.800" font-size="21.700" font-weight="bold" textLength="257.500" lengthAdjust="spacing">等使用场景，在信息化发展</text>
<text x="868.800" y="172.100" font-size="21.700" font-weight="bold" textLength="236" lengthAdjust="spacing">的阶段扮演者重要角色。</text>
<text x="929.700" y="243.800" font-size="21.330">协同效率的提高</text>
<text x="929.100" y="332.800" font-size="21.330">临床质量的提升</text>
<text x="929.0" y="422.500" font-size="21.330">医疗资源的共享</text>
<text x="929.400" y="511.700" font-size="21.330">分级诊疗的落地</text>
<text x="71.800" y="346.700" font-size="15">院内诊断</text>
<text x="64.900" y="417.500" font-size="15">多院区协同</text>
<text x="72.100" y="488.600" font-size="15">远程诊断</text>
<text x="244.500" y="504.100" font-size="13.600" font-weight="bold" textLength="84.400" lengthAdjust="spacing">统一工作列表</text>
<text x="482.400" y="505.0" font-size="13.500" font-weight="bold" textLength="83.100" lengthAdjust="spacing">自动获取跨机</text>
<text x="481.100" y="520.900" font-size="13.500" font-weight="bold" textLength="83.100" lengthAdjust="spacing">构的历史影像</text>
<text x="692.200" y="499.200" font-size="13.500" font-weight="bold" textLength="69.300" lengthAdjust="spacing">数据自动化</text>
<text x="243.800" y="519.600" font-size="13.200" font-weight="bold">Global</text>
<text x="243.800" y="532.300" font-size="13.200" font-weight="bold">Worklist</text>
<text x="739.0" y="263.400" font-size="21.400" font-weight="bold">AI</text>
<text x="692.100" y="515.100" font-size="13.500" font-weight="bold" textLength="69.300" lengthAdjust="spacing">智能化路由</text>
</g>
</svg>
</body></html>
